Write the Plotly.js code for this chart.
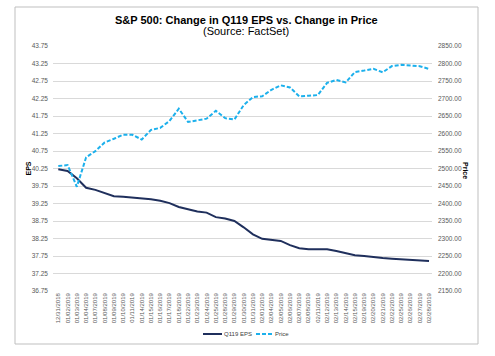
<!DOCTYPE html>
<html>
<head>
<meta charset="utf-8">
<script src="https://cdn.plot.ly/plotly-3.0.1.min.js"></script>
<style>
html,body{margin:0;padding:0;background:#fff;}
#chart{width:495px;height:356px;}
</style>
</head>
<body>
<div id="chart"></div>
<script>
const dates = ["12/31/2018","01/02/2019","01/03/2019","01/04/2019","01/07/2019","01/08/2019","01/09/2019","01/10/2019","01/11/2019","01/14/2019","01/15/2019","01/16/2019","01/17/2019","01/18/2019","01/22/2019","01/23/2019","01/24/2019","01/25/2019","01/28/2019","01/29/2019","01/30/2019","01/31/2019","02/01/2019","02/04/2019","02/05/2019","02/06/2019","02/07/2019","02/08/2019","02/11/2019","02/12/2019","02/13/2019","02/14/2019","02/15/2019","02/19/2019","02/20/2019","02/21/2019","02/22/2019","02/25/2019","02/26/2019","02/27/2019","02/28/2019"];
const epsValues = [40.23,40.18,39.97,39.70,39.64,39.54,39.46,39.44,39.42,39.39,39.37,39.33,39.26,39.15,39.09,39.02,38.99,38.86,38.82,38.75,38.57,38.37,38.24,38.21,38.18,38.06,37.97,37.94,37.94,37.94,37.89,37.83,37.77,37.75,37.71,37.69,37.67,37.66,37.64,37.63,37.61];
const priceValues = [2506.85,2510.03,2447.89,2531.94,2549.69,2574.41,2584.96,2596.64,2596.26,2582.61,2610.30,2616.10,2635.96,2670.71,2632.90,2638.70,2642.33,2664.76,2643.85,2640.00,2681.05,2704.10,2706.53,2724.87,2737.70,2731.61,2706.05,2707.88,2709.80,2744.73,2753.03,2745.73,2775.60,2779.76,2784.70,2774.88,2792.67,2796.11,2793.90,2792.38,2784.49];
const seriesNames = ["Q119 EPS","Price"];
const titleText = "S&P 500: Change in Q119 EPS vs. Change in Price";
const subtitleText = "(Source: FactSet)";

const FONT = "Liberation Sans, Arial, sans-serif";
const EPS_COLOR = "#1F2F5C";
const PRICE_COLOR = "#1CB0EC";
const PRICE_DASH = "4px,2px";
const traces = [
  {x: dates, y: epsValues, name: seriesNames[0], type: "scatter", mode: "lines",
   line: {color: EPS_COLOR, width: 2}, yaxis: "y", showlegend: false},
  {x: dates, y: priceValues, name: seriesNames[1], type: "scatter", mode: "lines",
   line: {color: PRICE_COLOR, width: 2, dash: PRICE_DASH}, yaxis: "y2", showlegend: false}
];

// pixel -> paper helpers (plot area: x 53..432, y 46..291)
const px = v => (v - 53) / 379;
const py = v => (291 - v) / 245;

const layout = {
  width: 495, height: 356,
  margin: {l: 53, r: 63, t: 46, b: 65},
  paper_bgcolor: "#ffffff", plot_bgcolor: "#ffffff",
  font: {family: FONT, color: "#595959", size: 6.5},
  showlegend: false,
  xaxis: {type: "category", range: [-0.572, 40.32], tickangle: -90,
          tickfont: {size: 6, color: "#595959"}, showgrid: false, zeroline: false,
          showline: false, ticks: "", ticklen: 0, automargin: false},
  yaxis: {range: [36.75, 43.75], tick0: 36.75, dtick: 0.5, tickformat: ".2f",
          showgrid: true, gridcolor: "#d9d9d9", gridwidth: 1, zeroline: false,
          showline: false, ticks: "", tickfont: {size: 6.5, color: "#595959"},
          ticklabelstandoff: 4, automargin: false},
  yaxis2: {range: [2150, 2850], tick0: 2150, dtick: 50, tickformat: ".2f",
           overlaying: "y", side: "right", showgrid: false, zeroline: false,
           showline: false, ticks: "", tickfont: {size: 6.5, color: "#595959"},
           ticklabelstandoff: 5, automargin: false},
  annotations: [
    {text: "<b>" + titleText.replace(/&/g, "&amp;") + "</b>", xref: "paper", yref: "paper",
     x: px(246), y: py(20), xanchor: "center", yanchor: "middle", showarrow: false,
     font: {size: 11, color: "#000000", family: FONT}},
    {text: subtitleText, xref: "paper", yref: "paper",
     x: px(246), y: py(31.5), xanchor: "center", yanchor: "middle", showarrow: false,
     font: {size: 11, color: "#000000", family: FONT}},
    {text: "<b>EPS</b>", xref: "paper", yref: "paper", x: px(28), y: 0.5,
     xanchor: "center", yanchor: "middle", textangle: -90, showarrow: false,
     font: {size: 7, color: "#000000", family: FONT}},
    {text: "<b>Price</b>", xref: "paper", yref: "paper", x: px(466), y: py(170),
     xanchor: "center", yanchor: "middle", textangle: 90, showarrow: false,
     font: {size: 7, color: "#000000", family: FONT}},
    {text: seriesNames[0], xref: "paper", yref: "paper", x: px(222), y: py(334),
     xanchor: "left", yanchor: "middle", showarrow: false,
     font: {size: 6, color: "#404040", family: FONT}},
    {text: seriesNames[1], xref: "paper", yref: "paper", x: px(273), y: py(334),
     xanchor: "left", yanchor: "middle", showarrow: false,
     font: {size: 6, color: "#404040", family: FONT}}
  ],
  shapes: [
    {type: "rect", xref: "paper", yref: "paper",
     x0: px(15), x1: px(478), y0: py(344), y1: py(7),
     line: {color: "#bfbfbf", width: 1}, fillcolor: "rgba(0,0,0,0)", layer: "below"},
    {type: "line", xref: "paper", yref: "paper", x0: px(203), x1: px(222), y0: py(334), y1: py(334),
     line: {color: EPS_COLOR, width: 2}},
    {type: "line", xref: "paper", yref: "paper", x0: px(256), x1: px(272), y0: py(334), y1: py(334),
     line: {color: PRICE_COLOR, width: 2, dash: PRICE_DASH}}
  ]
};

Plotly.newPlot("chart", traces, layout, {displayModeBar: false, staticPlot: true});
</script>
</body>
</html>
